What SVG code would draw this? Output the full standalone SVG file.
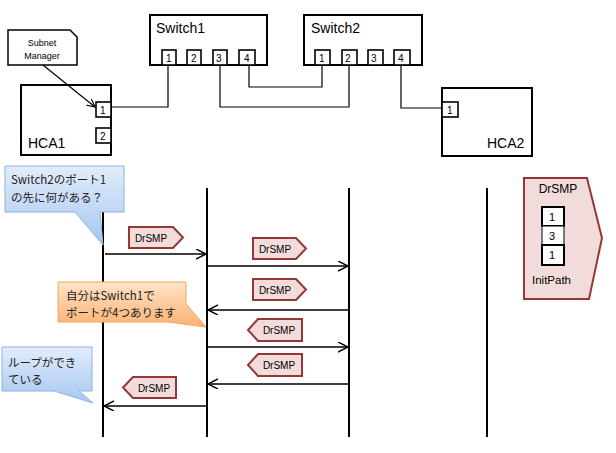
<svg xmlns="http://www.w3.org/2000/svg" width="616" height="453" viewBox="0 0 616 453">
<defs>
<style>
.box{fill:#fff;stroke:#000;stroke-width:2}
.port{fill:#fff;stroke:#000;stroke-width:1.6}
.wire{fill:none;stroke:#000;stroke-width:1.2}
.life{stroke:#000;stroke-width:2}
.msg{stroke:#000;stroke-width:1.4;fill:none}
.tag{fill:#f2dcdb;stroke:#953735;stroke-width:2}
.t{font-family:"Liberation Sans","Noto Sans CJK JP",sans-serif;fill:#000}
.big{font-size:14px}
.pn{font-size:10px}
.tg{font-size:10px}
.cj{font-family:"Noto Sans CJK JP",sans-serif;font-size:11.5px;fill:#222}
</style>
<linearGradient id="gBlue" x1="0" y1="0" x2="0" y2="1">
<stop offset="0" stop-color="#e2edfa"/><stop offset="1" stop-color="#a6c6f0"/>
</linearGradient>
<linearGradient id="gOrange" x1="0" y1="0" x2="0" y2="1">
<stop offset="0" stop-color="#ffe3c8"/><stop offset="1" stop-color="#fbb273"/>
</linearGradient>
<marker id="open" markerWidth="12" markerHeight="12" refX="10" refY="5" orient="auto" markerUnits="userSpaceOnUse">
<path d="M0,0 L10,5 L0,10" fill="none" stroke="#000" stroke-width="1.4"/>
</marker>
<marker id="arrSM" markerWidth="10" markerHeight="10" refX="8" refY="4" orient="auto" markerUnits="userSpaceOnUse">
<path d="M0,0 L8,4 L0,8" fill="none" stroke="#000" stroke-width="1.2"/>
</marker>
</defs>
<rect width="616" height="453" fill="#fff"/>

<g id="switch1">
<rect class="box" x="150" y="15" width="117" height="50"/>
<text class="t big" x="156" y="33">Switch1</text>
<rect class="port" x="162" y="50" width="14" height="15"/><text class="t pn" x="166" y="62">1</text>
<rect class="port" x="187" y="50" width="14" height="15"/><text class="t pn" x="191" y="62">2</text>
<rect class="port" x="213" y="50" width="14" height="15"/><text class="t pn" x="216" y="62">3</text>
<rect class="port" x="239" y="50" width="16" height="15"/><text class="t pn" x="244" y="62">4</text>
</g>

<g id="switch2">
<rect class="box" x="304" y="15" width="118" height="50"/>
<text class="t big" x="311" y="33">Switch2</text>
<rect class="port" x="315" y="50" width="15" height="15"/><text class="t pn" x="319" y="62">1</text>
<rect class="port" x="342" y="50" width="15" height="15"/><text class="t pn" x="345" y="62">2</text>
<rect class="port" x="368" y="50" width="15" height="15"/><text class="t pn" x="371" y="62">3</text>
<rect class="port" x="394" y="50" width="16" height="15"/><text class="t pn" x="398" y="62">4</text>
</g>

<g id="subnet-manager">
<path d="M8,30 H70 L77,37 V65 H8 Z" fill="#fff" stroke="#000" stroke-width="1.5"/>
<text class="t" font-size="9" x="42" y="46" text-anchor="middle">Subnet</text>
<text class="t" font-size="9" x="42" y="59" text-anchor="middle">Manager</text>
</g>

<g id="hca1">
<rect class="box" x="21" y="85" width="90" height="70"/>
<text class="t big" x="28" y="148">HCA1</text>
<rect class="port" x="96" y="102" width="15" height="15"/><text class="t pn" x="100" y="114">1</text>
<rect class="port" x="96" y="128" width="15" height="15"/><text class="t pn" x="100" y="140">2</text>
</g>

<g id="hca2">
<rect class="box" x="442" y="88" width="90" height="68"/>
<text class="t big" x="487" y="148">HCA2</text>
<rect class="port" x="442" y="102" width="16" height="15"/><text class="t pn" x="447" y="114">1</text>
</g>

<g id="connectors">
<path class="wire" d="M111,107 H168 V65"/>
<path class="wire" d="M249,65 V87 H322 V65"/>
<path class="wire" d="M220,65 V107 H349 V65"/>
<path class="wire" d="M401,65 V108 H442"/>
<line x1="43" y1="65" x2="95" y2="107" stroke="#000" stroke-width="1.2" marker-end="url(#arrSM)"/>
<line class="life" x1="103" y1="188" x2="103" y2="437"/>
<line class="life" x1="207" y1="188" x2="207" y2="437"/>
<line class="life" x1="349" y1="188" x2="349" y2="437"/>
<line class="life" x1="487" y1="188" x2="487" y2="437"/>
<line class="msg" x1="105" y1="254" x2="206" y2="254" marker-end="url(#open)"/>
<line class="msg" x1="207" y1="266" x2="348" y2="266" marker-end="url(#open)"/>
<line class="msg" x1="349" y1="310" x2="208" y2="310" marker-end="url(#open)"/>
<line class="msg" x1="207" y1="347" x2="348" y2="347" marker-end="url(#open)"/>
<line class="msg" x1="349" y1="384" x2="208" y2="384" marker-end="url(#open)"/>
<line class="msg" x1="207" y1="406" x2="104" y2="406" marker-end="url(#open)"/>
</g>

<g id="tag1"><path class="tag" d="M129,227 H173 L183,237.5 L173,248 H129 Z"/><text class="t tg" x="151" y="241.5" text-anchor="middle">DrSMP</text></g>
<g id="tag2"><path class="tag" d="M253,238 H296 L306,248.5 L296,259 H253 Z"/><text class="t tg" x="275" y="252.5" text-anchor="middle">DrSMP</text></g>
<g id="tag3"><path class="tag" d="M253,279 H296 L306,289.5 L296,300 H253 Z"/><text class="t tg" x="275" y="293.5" text-anchor="middle">DrSMP</text></g>
<g id="tag4"><path class="tag" d="M302,319 H258 L248,330 L258,341 H302 Z"/><text class="t tg" x="279" y="334" text-anchor="middle">DrSMP</text></g>
<g id="tag5"><path class="tag" d="M302,354 H258 L248,365 L258,376 H302 Z"/><text class="t tg" x="279" y="369" text-anchor="middle">DrSMP</text></g>
<g id="tag6"><path class="tag" d="M176,377 H133 L123,387.5 L133,398 H176 Z"/><text class="t tg" x="154" y="391.5" text-anchor="middle">DrSMP</text></g>

<g id="callout-question">
<path d="M5,166 H124 V212 H100 L103,245 L75,212 H5 Z" fill="url(#gBlue)" stroke="#8eb2e0" stroke-width="1"/>
<text class="cj" x="11" y="184">Switch2のポート1</text>
<text class="cj" x="11" y="202">の先に何がある？</text>
</g>

<g id="callout-answer">
<path d="M58,282 H186 V304 L206,327 L168,322 H58 Z" fill="url(#gOrange)" stroke="#f5a55e" stroke-width="1"/>
<text class="cj" x="66" y="300">自分はSwitch1で</text>
<text class="cj" x="66" y="317">ポートが4つあります</text>
</g>

<g id="callout-loop">
<path d="M2,347 H92 V391 H79 L93,403 L54,391 H2 Z" fill="url(#gBlue)" stroke="#8eb2e0" stroke-width="1"/>
<text class="cj" x="8" y="367">ループができ</text>
<text class="cj" x="8" y="384">ている</text>
</g>

<g id="drsmp-legend">
<path d="M524,178 H587 L602,238 L589,299 H524 Z" fill="#f2dcdb" stroke="#953735" stroke-width="2"/>
<text class="t" font-size="12" x="558" y="193" text-anchor="middle">DrSMP</text>
<rect x="542" y="207" width="22" height="19" fill="#fff" stroke="#000" stroke-width="2"/>
<text class="t" font-size="11" x="549" y="221" fill="#444">1</text>
<rect x="542" y="226" width="22" height="19" fill="#fff" stroke="#000" stroke-width="1"/>
<text class="t" font-size="11" x="549" y="240" fill="#444">3</text>
<rect x="542" y="245" width="22" height="20" fill="#fff" stroke="#000" stroke-width="2"/>
<text class="t" font-size="11" x="549" y="259">1</text>
<text class="t" font-size="11.5" x="532" y="284">InitPath</text>
</g>
</svg>
